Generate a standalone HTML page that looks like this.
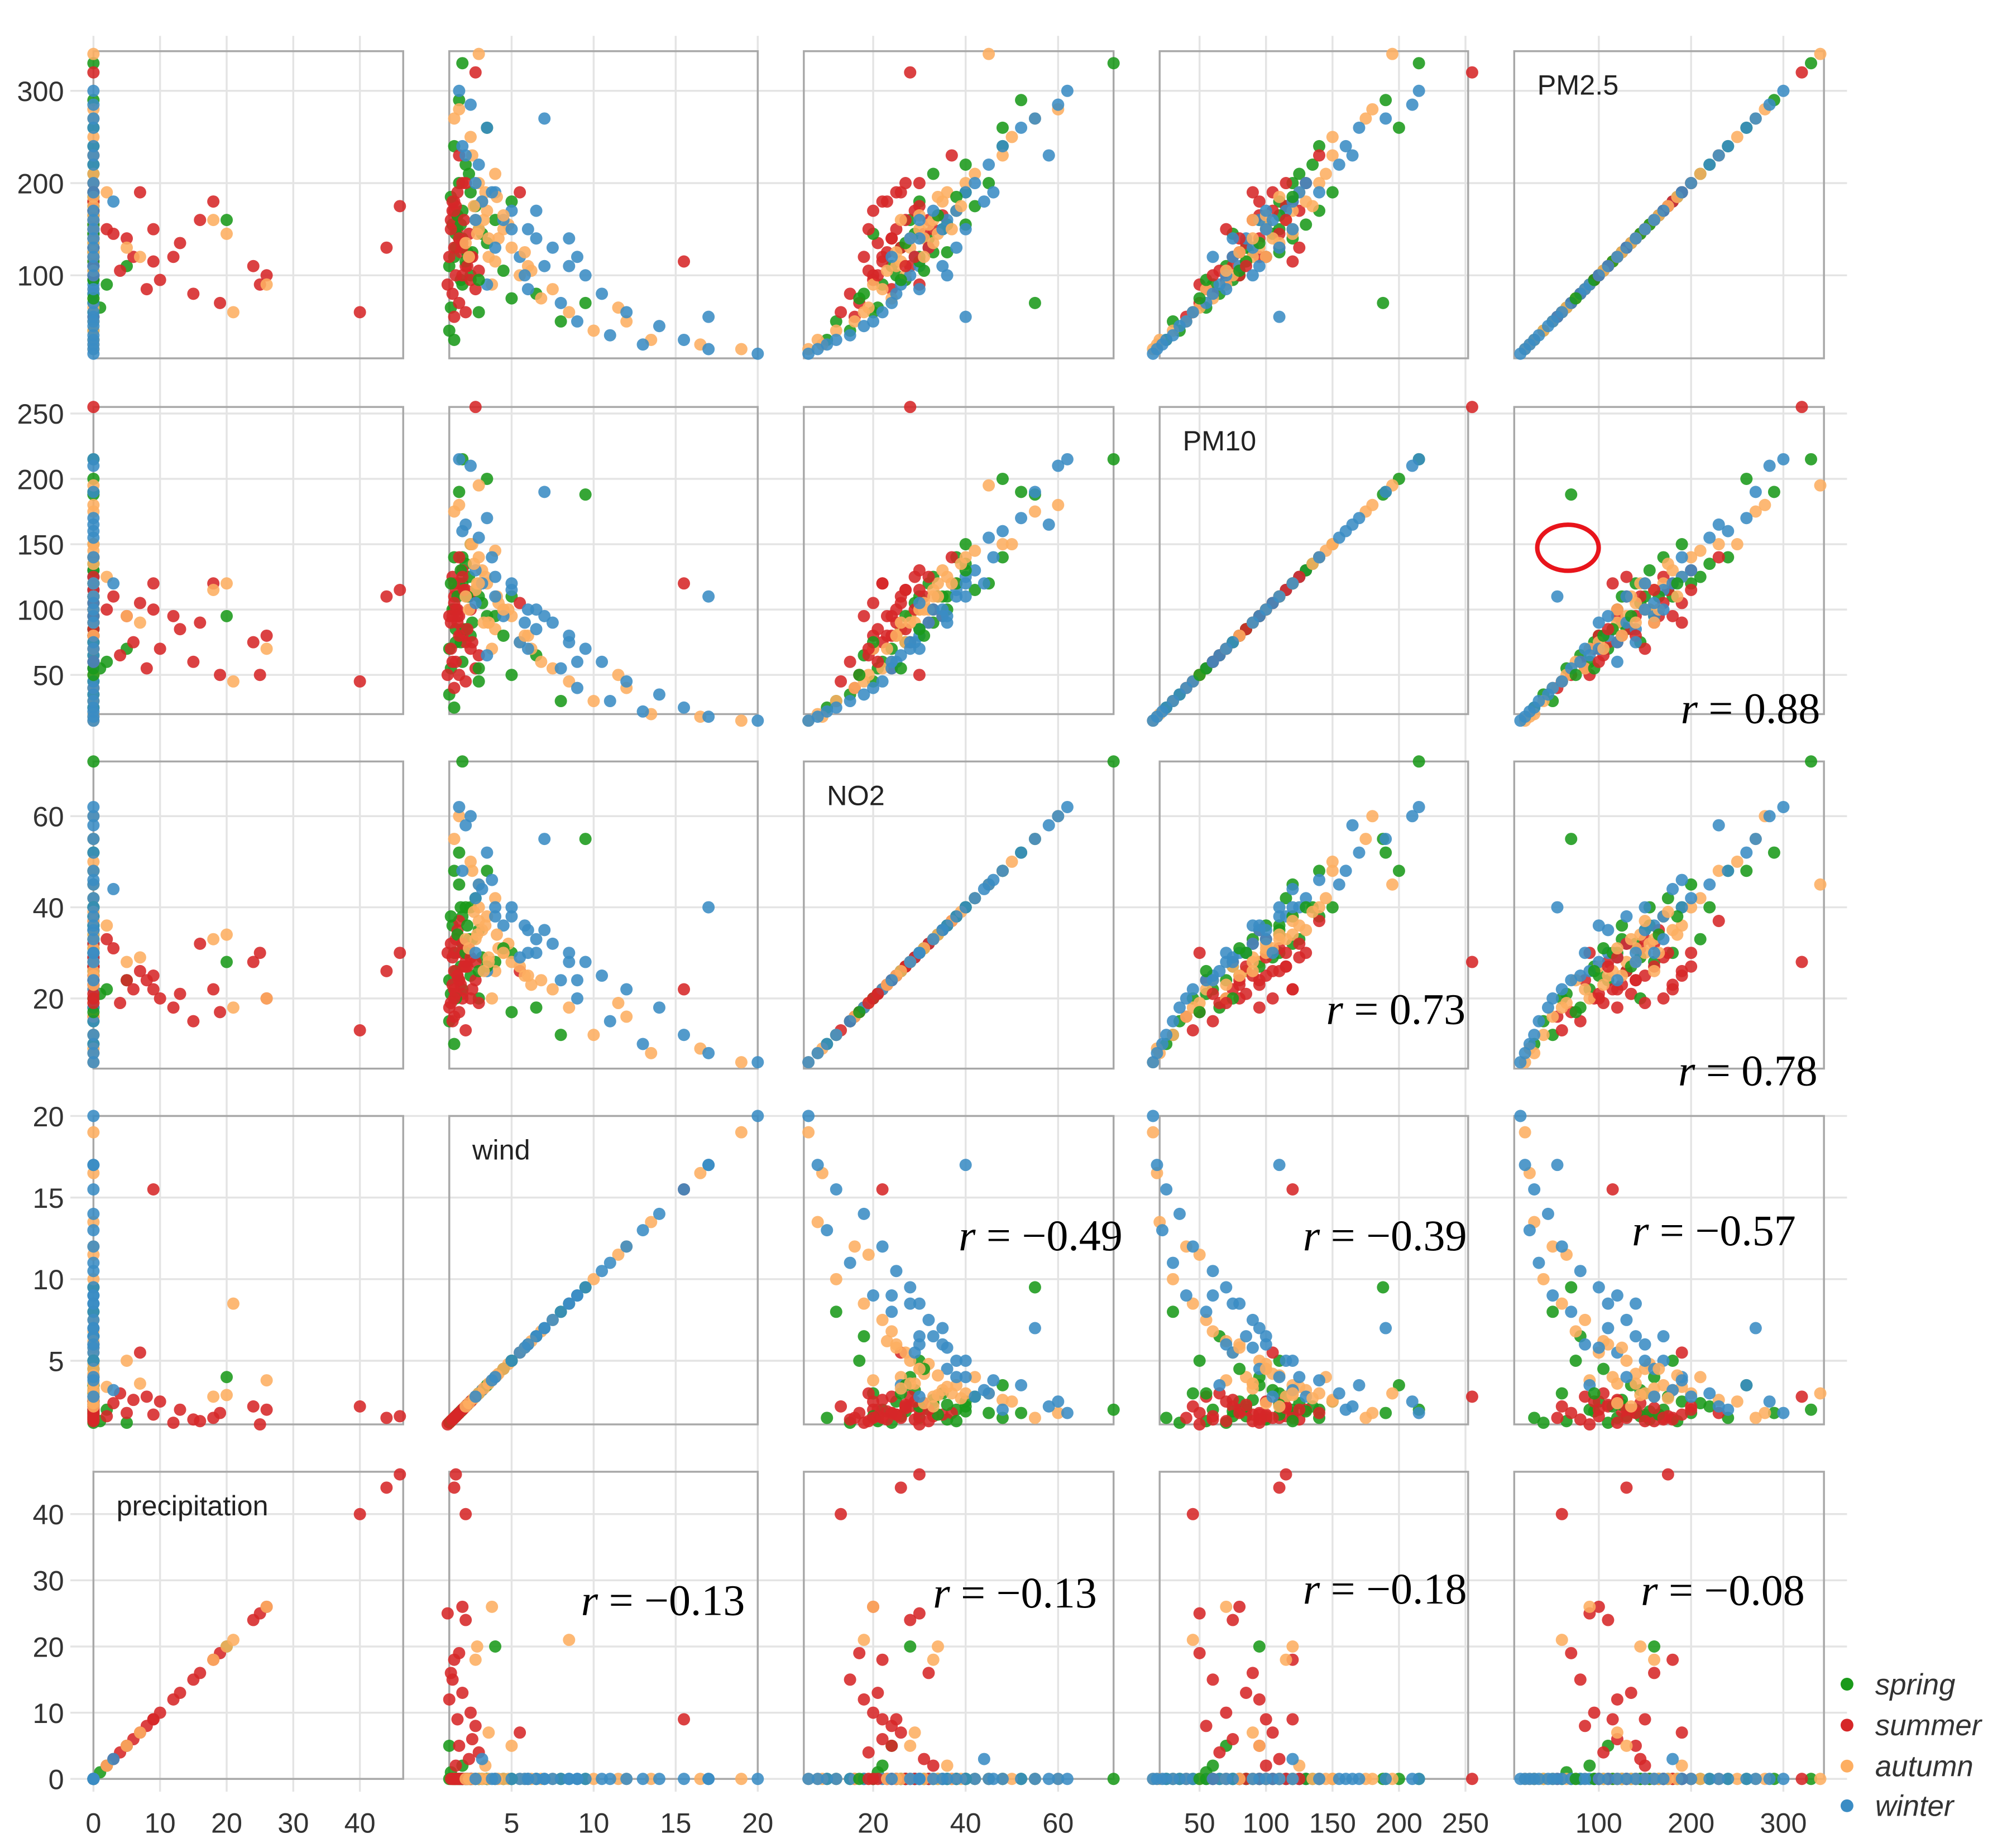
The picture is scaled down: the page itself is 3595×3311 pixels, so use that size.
<!DOCTYPE html>
<html><head><meta charset="utf-8"><style>
html,body{margin:0;padding:0;background:#fff;}
svg{display:block;}
</style></head><body>
<svg id="fig" width="3595" height="3311" viewBox="0 0 1568 1444" preserveAspectRatio="none" xmlns="http://www.w3.org/2000/svg" font-family="Liberation Sans, Arial, sans-serif">
<g id="grid"></g>
<g id="panels"></g>
<g id="ticks"></g>
<ellipse cx="1225" cy="428" rx="24" ry="18" fill="none" stroke="#e8141b" stroke-width="3.5"/>
<g font-style="italic" font-size="23" fill="#333">
 <g><circle cx="1443" cy="1316" r="5" fill="#1a9a1a"/><text x="1465" y="1324">spring</text></g>
 <g><circle cx="1443" cy="1348" r="5" fill="#d62728"/><text x="1465" y="1356">summer</text></g>
 <g><circle cx="1443" cy="1380" r="5" fill="#fdae61"/><text x="1465" y="1388">autumn</text></g>
 <g><circle cx="1443" cy="1411" r="5" fill="#3a8cc4"/><text x="1465" y="1419">winter</text></g>
</g>
</svg>
<script>
const seasons = ["spring","summer","autumn","winter"];
const seasonOf = [].concat(Array(30).fill(0),Array(30).fill(1),Array(30).fill(2),Array(30).fill(3),Array(10).fill(0),Array(10).fill(1),Array(10).fill(2),Array(10).fill(3));
const pm25 = [330,260,190,170,150,70,120,140,100,60,40,30,200,240,160,110,90,180,220,80,130,50,155,175,290,210,65,145,95,125,
 320,200,180,150,120,100,80,60,130,175,95,140,110,160,190,115,70,135,150,85,170,125,105,200,90,145,55,165,120,230,
 340,280,250,210,170,150,130,110,90,60,40,30,20,180,160,140,120,100,75,50,200,230,190,155,145,85,270,115,65,25,
 300,285,260,240,270,220,190,170,150,130,110,100,80,60,45,30,20,15,25,55,200,160,140,120,90,70,50,35,180,230,
 115,165,135,185,105,145,125,95,155,75,
 140,160,180,120,100,150,130,190,110,170,
 150,165,135,125,175,140,105,185,160,120,
 150,170,130,110,140,190,120,100,160,85];
const pm10 = [215,200,150,140,110,188,100,120,80,45,35,25,120,140,95,70,60,110,135,65,85,30,100,115,190,125,55,105,75,90,
 255,130,120,100,95,80,60,45,110,115,70,95,75,90,105,120,50,85,100,55,125,80,65,115,50,110,40,95,75,140,
 195,180,150,145,120,100,95,80,70,45,30,20,15,130,115,105,90,75,60,40,140,150,125,100,120,55,175,85,50,18,
 215,210,170,160,190,155,125,115,100,90,80,70,60,45,35,25,18,15,22,110,130,95,85,75,65,55,40,30,120,165,
 85,110,95,120,80,75,110,55,130,50,
 80,115,95,100,60,70,125,90,85,105,
 120,100,110,80,135,90,70,110,90,100,
 120,100,110,95,75,140,60,90,105,70];
const no2 = [72,48,40,38,35,55,30,32,25,20,15,10,45,48,28,24,22,30,40,18,26,12,36,42,52,33,21,29,27,33,
 28,30,22,25,18,20,15,13,26,30,20,24,28,32,26,22,17,21,33,24,29,23,19,27,30,31,16,35,22,37,
 45,60,50,42,38,30,28,25,20,18,12,8,6,35,33,31,29,27,24,16,40,48,36,32,34,22,55,26,19,9,
 62,60,52,48,55,45,40,38,35,32,30,28,25,22,18,12,8,6,10,40,42,36,30,29,26,24,20,15,44,58,
 30,34,27,38,31,20,36,26,40,17,
 24,27,23,29,21,19,32,25,27,20,
 37,30,33,25,39,28,23,34,26,31,
 40,33,38,35,28,46,24,36,30,30];
const wind = [2.0,3.5,2.5,2.0,3.0,9.5,1.5,2.0,2.5,3.0,1.2,1.5,1.8,1.5,4.0,1.2,2.0,5.0,2.2,6.5,1.6,8.0,1.4,2.8,1.8,2.4,1.3,3.2,1.9,2.6,
 2.8,2.0,1.5,1.7,1.2,2.0,1.4,2.2,1.5,1.6,2.5,1.8,2.2,1.3,5.5,15.5,1.8,2.0,1.6,2.8,1.4,1.9,3.0,2.2,1.1,2.4,1.5,1.7,2.6,1.8,
 3.0,1.8,2.5,4.0,3.5,4.5,5.0,6.0,3.8,8.5,10.0,13.5,19.0,3.2,2.8,4.2,3.6,5.5,6.8,12.0,3.0,2.6,3.4,4.8,2.9,7.5,1.5,4.0,11.5,16.5,
 1.8,2.5,3.5,2.0,7.0,3.0,4.0,5.0,6.0,7.5,8.5,9.5,10.5,12.0,14.0,15.5,17.0,20.0,13.0,17.0,2.8,4.5,6.5,5.5,3.5,8.0,9.0,11.0,3.2,2.2,
 2.2,1.7,3.5,1.3,4.5,1.6,2.3,3.0,1.9,5.0,
 1.8,2.1,1.4,2.5,1.6,1.3,2.0,1.7,2.3,1.5,
 3.0,4.5,2.2,5.8,2.7,3.6,6.2,4.1,3.3,2.4,
 5.0,6.5,4.0,7.0,8.5,3.8,9.0,5.8,2.8,6.0];
const precip = [0,0,0,0,0,0,0,0,0,0,0,0,0,0,20,5,2,0,0,0,0,0,0,0,0,0,1,0,0,0,
 0,0,18,9,12,26,15,40,44,46,10,5,24,16,7,9,19,13,2,8,0,0,4,0,25,3,0,0,6,0,
 0,0,0,0,0,0,5,0,26,21,0,0,0,0,18,0,7,0,0,0,0,0,2,0,20,0,0,0,0,0,
 0,0,0,0,0,0,0,0,0,0,0,0,0,0,0,0,0,0,0,0,0,0,0,0,0,0,0,0,3,0,
 0,0,0,0,0,0,0,0,0,0,
 0,0,0,0,0,0,0,0,0,0,
 0,0,0,0,0,0,0,0,0,0,
 0,0,0,0,0,0,0,0,0,0];
const colors = ["#1a9a1a","#d62728","#fdae61","#3a8cc4"];
const colVars = [precip, wind, no2, pm10, pm25];
const rowVars = [pm25, pm10, no2, wind, precip];
const varNames = ["PM2.5","PM10","NO2","wind","precipitation"];
const colTicks = [[0,10,20,30,40],[5,10,15,20],[20,40,60],[50,100,150,200,250],[100,200,300]];
const rowTicks = [[100,200,300],[50,100,150,200,250],[20,40,60],[5,10,15,20],[0,10,20,30,40]];
const rLabels = [[null,null,null,null,null],[null,null,null,null,"0.88"],[null,null,null,"0.73","0.78"],[null,null,"\u22120.49","\u22120.39","\u22120.57"],[null,"\u22120.13","\u22120.13","\u22120.18","\u22120.08"]];
// layout (not data)
const colX = [[73,315],[351,592],[628,870],[906,1147],[1183,1425]];
const rowY = [[40,280],[318,558],[595,835],[872,1113],[1150,1390]];
const colDom = [[0,46.5],[1.2,20],[5,72],[20,252],[8.3,344]];
const rowDom = [[343,10],[255,20],[72,4.6],[20,1.1],[46.4,0]];
const rPos = [[],[0,0,0,0,[1422,565]],[0,0,0,[1145,800],[1420,848]],[0,0,[877,977],[1146,977],[1403,973]],[0,[582,1262],[857,1256],[1146,1253],[1410,1254]]];
const NS="http://www.w3.org/2000/svg";
function xs(c,v){const d=colDom[c],p=colX[c];return p[0]+(v-d[0])/(d[1]-d[0])*(p[1]-p[0]);}
function ys(r,v){const d=rowDom[r],p=rowY[r];return p[0]+(v-d[0])/(d[1]-d[0])*(p[1]-p[0]);}
function mk(tag,attrs,parent){const e=document.createElementNS(NS,tag);for(const k in attrs)e.setAttribute(k,attrs[k]);parent.appendChild(e);return e;}
const grid=document.getElementById('grid'),panels=document.getElementById('panels'),ticks=document.getElementById('ticks');
for(let c=0;c<5;c++){for(const t of colTicks[c]){const x=xs(c,t);
 const l=mk('line',{x1:x,x2:x,y1:28,y2:1400,stroke:'#e4e4e4','stroke-width':1.5},grid);
 
 
 const tx=mk('text',{x:x,y:1432,'text-anchor':'middle','font-size':22,fill:'#333'},ticks);tx.textContent=t;
 
 }}
for(let r=0;r<5;r++){for(const t of rowTicks[r]){const y=ys(r,t);
 const l=mk('line',{x1:55,x2:1443,y1:y,y2:y,stroke:'#e4e4e4','stroke-width':1.5},grid);
 
 
 const tx=mk('text',{x:50,y:y+8,'text-anchor':'end','font-size':22,fill:'#333'},ticks);tx.textContent=t;
 
 }}
for(let r=0;r<5;r++)for(let c=0;c<5;c++){
 const g=mk('g',{},panels);
 
 
 const b=mk('rect',{x:colX[c][0],y:rowY[r][0],width:colX[c][1]-colX[c][0],height:rowY[r][1]-rowY[r][0],fill:'none',stroke:'#a8a8a8','stroke-width':1.5},g);
 
 
 const xv=colVars[c],yv=rowVars[r];
 for(let i=0;i<xv.length;i++){
  const p=mk('circle',{cx:xs(c,xv[i]),cy:ys(r,yv[i]),r:4.8,fill:colors[seasonOf[i]],'fill-opacity':0.88},g);
  
  }
 if(r+c===4){const t=mk('text',{x:colX[c][0]+18,y:rowY[r][0]+34,'font-size':22,fill:'#222'},g);t.textContent=varNames[r];
  
  }
 if(rLabels[r][c]){const p=rPos[r][c];const t=mk('text',{x:p[0],y:p[1],'text-anchor':'end','font-size':34,'font-family':'Liberation Serif, Times New Roman, serif',fill:'#000'},g);
  t.innerHTML='<tspan font-style="italic">r</tspan> = '+rLabels[r][c];
  
  }
}
</script>
</body></html>
